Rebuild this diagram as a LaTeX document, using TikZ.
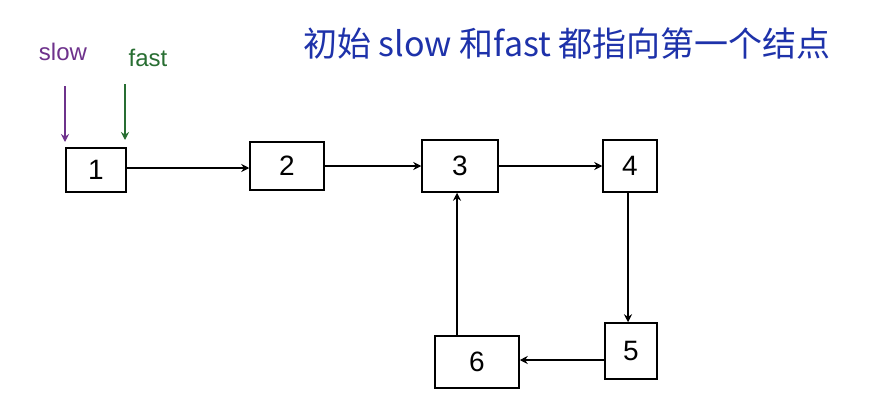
\documentclass[tikz,border=0pt]{standalone}
\usepackage{fontspec}
\usetikzlibrary{arrows.meta}
\newfontfamily\cjk{Noto Sans CJK SC}
\setmainfont{Liberation Sans}
\begin{document}
\begin{tikzpicture}[x=1pt,y=-1pt,
  box/.style={draw,line width=1.5pt,minimum width=58pt,minimum height=46pt,font=\fontsize{28}{30}\selectfont,inner sep=0pt},
  arr/.style={-{Stealth[length=8pt,width=8pt]},line width=2.2pt}]
\useasboundingbox[fill=white] (0,0) rectangle (882,404);
\node[box,minimum width=60pt,minimum height=44pt] (n1) at (96,170) {1};
\node[box,minimum width=74pt,minimum height=48pt] (n2) at (287,166) {2};
\node[box,minimum width=76pt,minimum height=52pt] (n3) at (460,166) {3};
\node[box,minimum width=54pt,minimum height=52pt] (n4) at (630,166) {4};
\node[box,minimum width=52pt,minimum height=56pt] (n5) at (631,351) {5};
\node[box,minimum width=84pt,minimum height=52pt] (n6) at (477,362) {6};
\draw[arr] (n1.east |- 0,168) -- (n2.west |- 0,168);
\draw[arr] (n2) -- (n3);
\draw[arr] (n3) -- (n4);
\draw[arr] (n4.south -| 628,0) -- (n5.north -| 628,0);
\draw[arr] (n5.west |- 0,360) -- (n6.east |- 0,360);
\draw[arr] (n6.north -| 457,0) -- (n3.south -| 457,0);
\node[text={rgb,255:red,110;green,50;blue,140},font=\fontsize{24}{26}\selectfont] (slow) at (63,52) {slow};
\node[text={rgb,255:red,40;green,110;blue,50},font=\fontsize{24}{26}\selectfont] (fast) at (148,58) {fast};
\coordinate (s1) at (65,86); \coordinate (s2) at (65,142);
\coordinate (f1) at (125,84); \coordinate (f2) at (125,140);
\draw[arr,color={rgb,255:red,110;green,50;blue,140}] (s1) -- (s2);
\draw[arr,color={rgb,255:red,40;green,110;blue,50}] (f1) -- (f2);
\node[text={rgb,255:red,30;green,50;blue,170},font=\fontsize{34}{36}\selectfont] (title) at (567,44) {\cjk 初始 slow 和fast 都指向第一个结点};
\end{tikzpicture}
\end{document}
